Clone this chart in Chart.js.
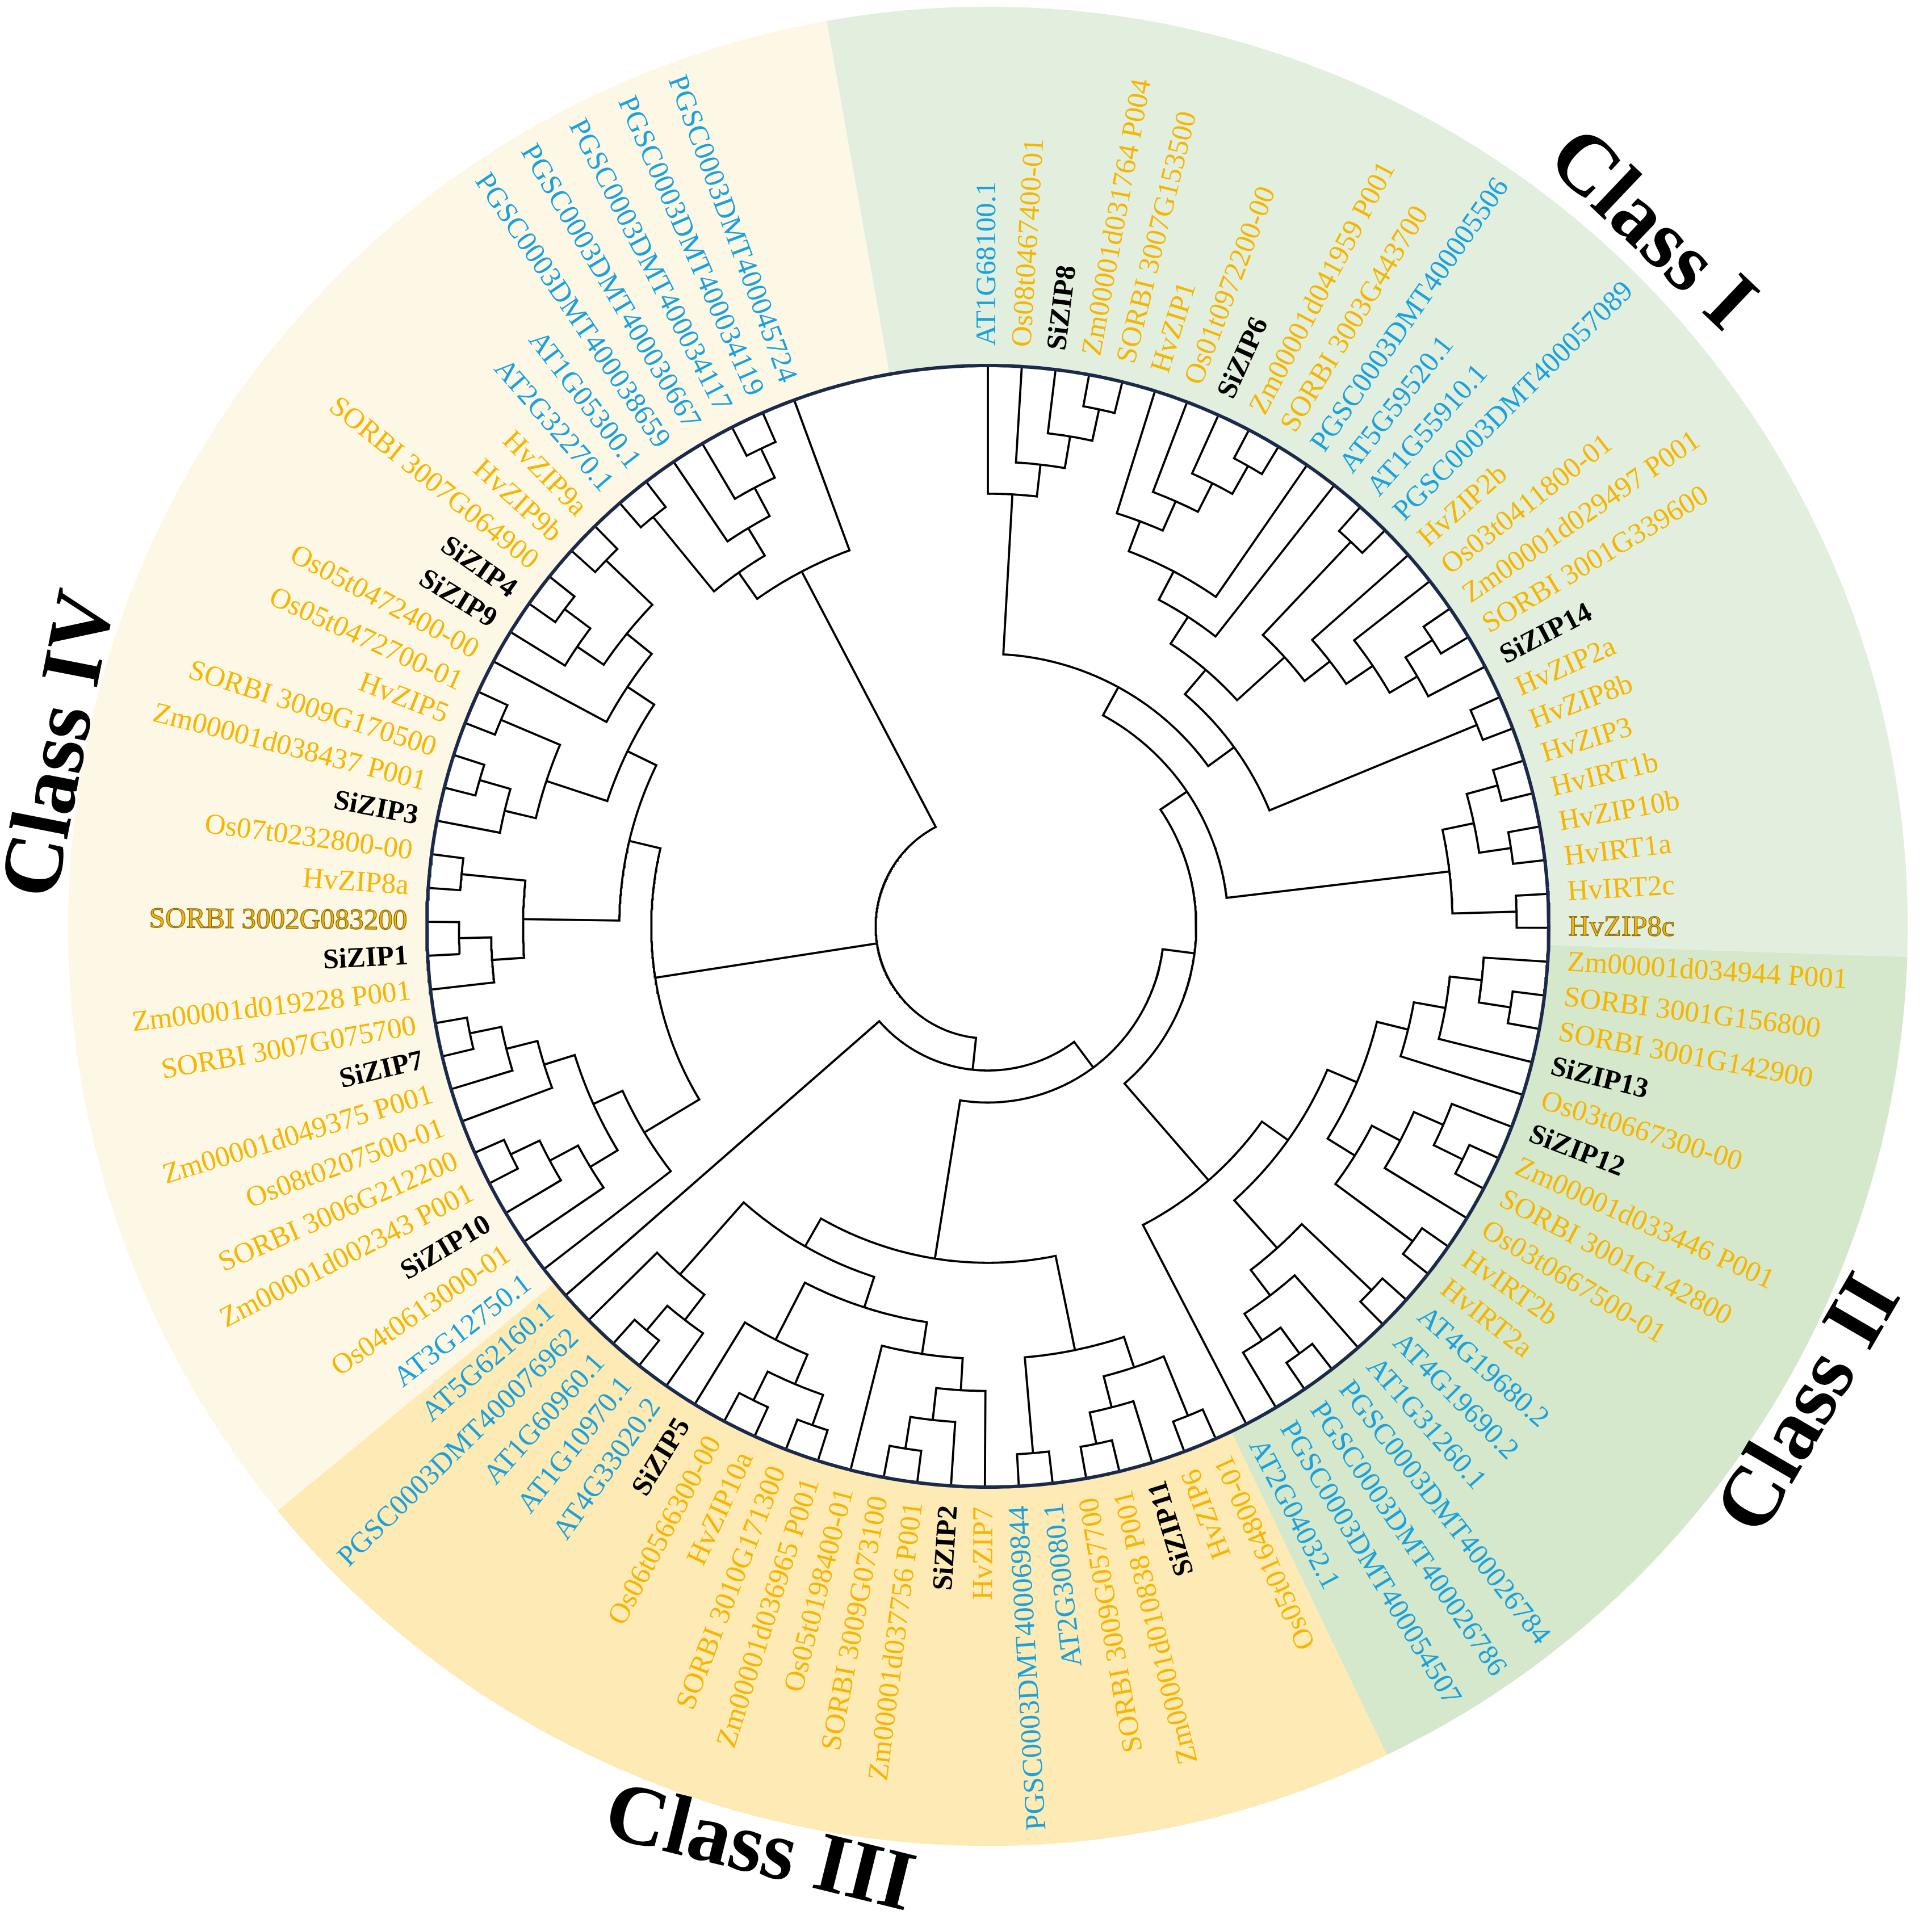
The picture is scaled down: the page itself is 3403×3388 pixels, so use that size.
<!DOCTYPE html>
<html>
<head>
<meta charset="utf-8">
<title>ZIP family tree</title>
<script src="https://cdn.jsdelivr.net/npm/chart.js@4"></script>
<style>
    html, body { margin: 0; padding: 0; background: #ffffff; }
    #wrap { width: 3403px; height: 3388px; }
</style>
</head>
<body>
<div id="wrap"><canvas id="tree" width="3403" height="3388"></canvas></div>
<script>
// tip labels, clockwise from 12 o'clock
const leafLabels = [
    'AT1G68100.1', 'Os08t0467400-01', 'SiZIP8', 'Zm00001d031764 P004', 'SORBI 3007G153500',
    'HvZIP1', 'Os01t0972200-00', 'SiZIP6', 'Zm00001d041959 P001', 'SORBI 3003G443700',
    'PGSC0003DMT400005506', 'AT5G59520.1', 'AT1G55910.1', 'PGSC0003DMT400057089', 'HvZIP2b',
    'Os03t0411800-01', 'Zm00001d029497 P001', 'SORBI 3001G339600', 'SiZIP14', 'HvZIP2a',
    'HvZIP8b', 'HvZIP3', 'HvIRT1b', 'HvZIP10b', 'HvIRT1a', 'HvIRT2c', 'HvZIP8c',
    'Zm00001d034944 P001', 'SORBI 3001G156800', 'SORBI 3001G142900', 'SiZIP13', 'Os03t0667300-00',
    'SiZIP12', 'Zm00001d033446 P001', 'SORBI 3001G142800', 'Os03t0667500-01', 'HvIRT2b',
    'HvIRT2a', 'AT4G19680.2', 'AT4G19690.2', 'AT1G31260.1', 'PGSC0003DMT400026784',
    'PGSC0003DMT400026786', 'PGSC0003DMT400054507', 'AT2G04032.1',
    'Os05t0164800-01', 'HvZIP6', 'SiZIP11', 'Zm00001d010838 P001', 'SORBI 3009G057700',
    'AT2G30080.1', 'PGSC0003DMT400069844', 'HvZIP7', 'SiZIP2', 'Zm00001d037756 P001',
    'SORBI 3009G073100', 'Os05t0198400-01', 'Zm00001d036965 P001', 'SORBI 3010G171300', 'HvZIP10a',
    'Os06t0566300-00', 'SiZIP5', 'AT4G33020.2', 'AT1G10970.1', 'AT1G60960.1',
    'PGSC0003DMT400076962', 'AT5G62160.1',
    'AT3G12750.1', 'Os04t0613000-01', 'SiZIP10', 'Zm00001d002343 P001', 'SORBI 3006G212200',
    'Os08t0207500-01', 'Zm00001d049375 P001', 'SiZIP7', 'SORBI 3007G075700', 'Zm00001d019228 P001',
    'SiZIP1', 'SORBI 3002G083200', 'HvZIP8a', 'Os07t0232800-00', 'SiZIP3',
    'Zm00001d038437 P001', 'SORBI 3009G170500', 'HvZIP5', 'Os05t0472700-01', 'Os05t0472400-00',
    'SiZIP9', 'SiZIP4', 'SORBI 3007G064900', 'HvZIP9b', 'HvZIP9a',
    'AT2G32270.1', 'AT1G05300.1', 'PGSC0003DMT400038659', 'PGSC0003DMT400030667',
    'PGSC0003DMT400034117', 'PGSC0003DMT400034119', 'PGSC0003DMT400045724'
];

// clades as nested leaf indices
const topI = [0, [1, [2, [3, 4]]]];
const midI = [[[[5, [6, [7, [8, 9]]]], 10], 11], [[12, 13], [14, [15, [[16, 17], 18]]]]];
const irtI = [[[21, 22], [23, 24]], [25, 26]];
const cladeI = [[topI, [midI, [19, 20]]], irtI];

const upperII = [[[27, [28, 29]], 30], 31];
const middleII = [[[32, [33, 34]], 35], [36, 37]];
const lowerII = [[38, 39], [40, [[41, 42], 43]]];
const cladeII = [[[upperII, middleII], lowerII], 44];

const firstIII = [[[45, 46], [47, [48, 49]]], [50, 51]];
const secondIII = [[[52, [53, [54, 55]]], 56], [[[57, 58], [59, 60]], 61]];
const thirdIII = [[62, [63, 64]], 65];
const cladeIII = [firstIII, [secondIII, thirdIII]];

const firstIV = [67, [[68, [69, [70, 71]]], [72, [73, [74, 75]]]]];
const secondIV = [[[76, [77, 78]], [79, 80]], [[[81, [82, 83]], [84, 85]], [86, [[87, [88, 89]], [90, 91]]]]];
const cladeIV = [firstIV, secondIV];
const cladePGSC = [[[92, 93], [94, [95, [96, 97]]]], 98];

const topology = [[[[cladeI, cladeII], cladeIII], 66], cladeIV, cladePGSC];

// tip angles (degrees clockwise from top)
const firstTipAngle = 0;
const lastTipAngle = 339.8;

// labels drawn with a dark outline in the original
const outlinedLabels = ['SORBI 3002G083200', 'HvZIP8c'];

// class sectors
const classNames = ['Class I', 'Class II', 'Class III', 'Class IV'];
const classStart = [349.9, 91.9, 154.3, 230.55];
const classColors = ['#e2efdf', '#d5e8cb', '#fdeab4', '#fdf8e6'];
const classLabelAngle = [43.6, 120.2, 193.9, 281.1];
const classLabelRadius = [1.71, 1.70, 1.70, 1.68];

// layout
const CX = 1740, CY = 1632, R = 988, W = 3403, H = 3388;
const RING_OUT = 1.64;
const ROOT_R = 0.2;
const LABEL_R = 1.035;
const tipStep = (lastTipAngle - firstTipAngle) / (leafLabels.length - 1);

function depth(node) {
    return typeof node === 'number' ? 0 : 1 + Math.max(...node.map(depth));
}
const DR = (1 - ROOT_R) / depth(topology);

function polar(r, deg) {
    const t = deg * Math.PI / 180;
    return { x: r * Math.sin(t), y: r * Math.cos(t) };
}

function arcPoints(r, a1, a2) {
    const n = Math.max(2, Math.ceil(Math.abs(a2 - a1) / 0.4));
    const pts = [];
    for (let i = 0; i <= n; i++) pts.push(polar(r, a1 + (a2 - a1) * i / n));
    return pts;
}

const datasets = [];
function branch(pts) {
    return {
        data: pts, showLine: true, borderColor: '#000000', borderWidth: 3.8,
        pointRadius: 0, borderJoinStyle: 'miter', borderCapStyle: 'butt', tension: 0, order: 1
    };
}

function build(node) {
    if (typeof node === 'number') return { h: 0, a: firstTipAngle + node * tipStep, r: 1 };
    const kids = node.map(build);
    const h = 1 + Math.max(...kids.map(k => k.h));
    const r = 1 - h * DR;
    const first = kids[0], last = kids[kids.length - 1];
    datasets.push(branch([polar(first.r, first.a), ...arcPoints(r, first.a, last.a), polar(last.r, last.a)]));
    kids.slice(1, -1).forEach(k => datasets.push(branch([polar(r, k.a), polar(k.r, k.a)])));
    return { h, a: (first.a + last.a) / 2, r };
}
build(topology);

datasets.push({
    data: arcPoints(1, 0, 360), showLine: true, borderColor: '#1b2a4a', borderWidth: 6,
    pointRadius: 0, tension: 0, order: 0
});

function leafColor(label) {
    if (label.startsWith('SiZIP')) return '#000000';
    if (label.startsWith('AT') || label.startsWith('PGSC')) return '#1ba1dd';
    return '#f6b500';
}

const sectorPlugin = {
    id: 'sectors',
    beforeDatasetsDraw(chart) {
        const { ctx, scales: { x, y } } = chart;
        const cx = x.getPixelForValue(0), cy = y.getPixelForValue(0);
        const unit = x.getPixelForValue(1) - cx;
        ctx.save();
        classStart.forEach((start, k) => {
            let end = classStart[(k + 1) % classStart.length];
            if (end < start) end += 360;
            const a1 = (start - 90) * Math.PI / 180, a2 = (end - 90) * Math.PI / 180;
            ctx.beginPath();
            ctx.arc(cx, cy, RING_OUT * unit, a1, a2);
            ctx.arc(cx, cy, unit, a2, a1, true);
            ctx.closePath();
            ctx.fillStyle = classColors[k];
            ctx.fill();
        });
        ctx.restore();
    }
};

const labelPlugin = {
    id: 'labels',
    afterDatasetsDraw(chart) {
        const { ctx, scales: { x, y } } = chart;
        ctx.save();
        ctx.textBaseline = 'middle';
        leafLabels.forEach((label, i) => {
            const a = firstTipAngle + i * tipStep;
            const p = polar(LABEL_R, a);
            const flip = a > classStart[2] && a < classStart[0];
            ctx.save();
            ctx.translate(x.getPixelForValue(p.x), y.getPixelForValue(p.y));
            ctx.rotate((flip ? a + 90 : a - 90) * Math.PI / 180);
            ctx.textAlign = flip ? 'right' : 'left';
            ctx.font = label.startsWith('SiZIP')
                ? 'bold 50px "Liberation Serif", "Times New Roman", serif'
                : '51px "Liberation Serif", "Times New Roman", serif';
            ctx.fillStyle = leafColor(label);
            ctx.fillText(label, 0, 0);
            if (outlinedLabels.includes(label)) {
                ctx.strokeStyle = '#8a6d12';
                ctx.lineWidth = 1.4;
                ctx.strokeText(label, 0, 0);
            }
            ctx.restore();
        });
        ctx.font = 'bold 150px "Liberation Serif", "Times New Roman", serif';
        ctx.textAlign = 'center';
        ctx.fillStyle = '#000000';
        classNames.forEach((name, k) => {
            const a = classLabelAngle[k];
            const p = polar(classLabelRadius[k], a);
            ctx.save();
            ctx.translate(x.getPixelForValue(p.x), y.getPixelForValue(p.y));
            ctx.rotate((a > 90 && a < 270 ? a - 180 : a) * Math.PI / 180);
            ctx.fillText(name, 0, 0);
            ctx.restore();
        });
        ctx.restore();
    }
};

const whitePlugin = {
    id: 'white',
    beforeDraw(chart) {
        const ctx = chart.ctx;
        ctx.save();
        ctx.fillStyle = '#ffffff';
        ctx.fillRect(0, 0, chart.width, chart.height);
        ctx.restore();
    }
};

new Chart(document.getElementById('tree'), {
    type: 'scatter',
    data: { datasets },
    options: {
        responsive: false,
        animation: false,
        devicePixelRatio: 1,
        events: [],
        layout: { padding: 0 },
        scales: {
            x: { type: 'linear', min: -CX / R, max: (W - CX) / R, display: false },
            y: { type: 'linear', min: -(H - CY) / R, max: CY / R, display: false }
        },
        plugins: { legend: { display: false }, tooltip: { enabled: false } }
    },
    plugins: [whitePlugin, sectorPlugin, labelPlugin]
});
</script>
</body>
</html>
